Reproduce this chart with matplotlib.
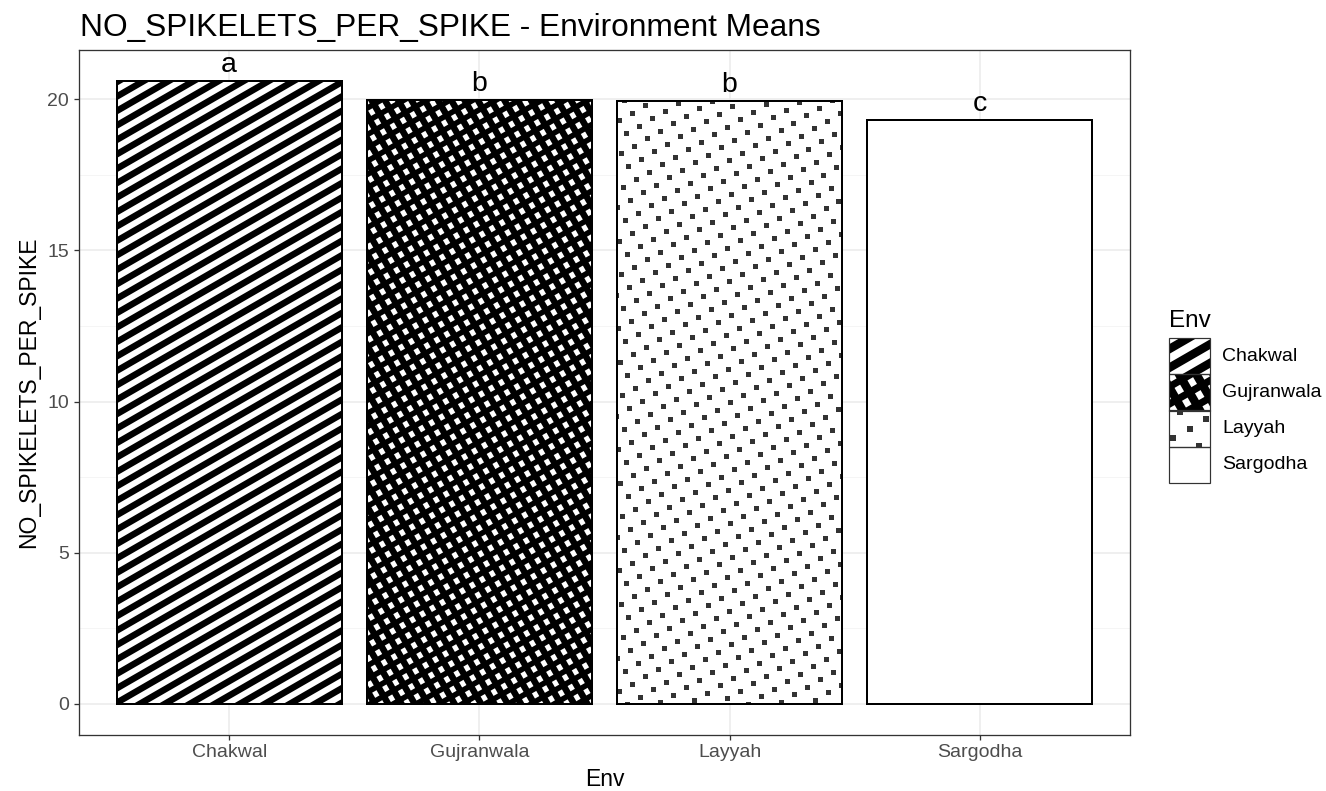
import numpy as np
import matplotlib
matplotlib.use("Agg")
import matplotlib.pyplot as plt
from matplotlib.collections import LineCollection
from matplotlib.patches import Rectangle
from matplotlib.transforms import IdentityTransform

# data
envs = ["Chakwal", "Gujranwala", "Layyah", "Sargodha"]
means = [20.60, 19.98, 19.95, 19.31]
groups = ["a", "b", "b", "c"]
patterns = ["stripe", "crosshatch", "dots", "none"]

plt.rcParams['font.family'] = ['Liberation Sans', 'DejaVu Sans']

W, H = 1326, 791
fig = plt.figure(figsize=(W / 100, H / 100), dpi=100)
ax = fig.add_axes([79 / W, 1 - 735 / H, 1051 / W, 685 / H])


def pt(p):
    # pixels -> points at 100 dpi
    return p * 72 / 100


def stripes(a, patch, angle, gap, width, color="black"):
    bb = patch.get_window_extent()
    t = np.deg2rad(angle)
    d = np.array([np.cos(t), np.sin(t)])
    n = np.array([-np.sin(t), np.cos(t)])
    c0 = np.array([(bb.x0 + bb.x1) / 2, (bb.y0 + bb.y1) / 2])
    L = np.hypot(bb.width, bb.height)
    k = np.arange(-int(L / gap) - 2, int(L / gap) + 3)
    segs = [[c0 + i * gap * n - L * d, c0 + i * gap * n + L * d] for i in k]
    lc = LineCollection(segs, colors=color, linewidths=pt(width),
                        transform=IdentityTransform(), zorder=2.5)
    a.add_collection(lc, autolim=False)
    lc.set_clip_path(patch)


def dots(a, patch, angle, gap, size, color="#333333"):
    bb = patch.get_window_extent()
    t = np.deg2rad(angle)
    d = np.array([np.cos(t), np.sin(t)])
    n = np.array([-np.sin(t), np.cos(t)])
    c0 = np.array([(bb.x0 + bb.x1) / 2, (bb.y0 + bb.y1) / 2])
    N = int(np.hypot(bb.width, bb.height) / gap) + 2
    i, j = np.meshgrid(np.arange(-N, N + 1), np.arange(-N, N + 1))
    p = c0 + (i.ravel()[:, None] * d + j.ravel()[:, None] * n) * gap
    keep = ((p[:, 0] > bb.x0 - gap) & (p[:, 0] < bb.x1 + gap) &
            (p[:, 1] > bb.y0 - gap) & (p[:, 1] < bb.y1 + gap))
    p = p[keep]
    ln, = a.plot(p[:, 0], p[:, 1], 's', ms=pt(size), mew=0, color=color,
                 transform=IdentityTransform(), zorder=2.5)
    ln.set_clip_path(patch)


def fill_pattern(a, patch, kind, scale=1.0):
    if kind == "stripe":
        stripes(a, patch, 30, 12.5 * scale, 6.5 * scale)
    elif kind == "crosshatch":
        stripes(a, patch, 30, 11.5 * scale, 5.5 * scale)
        stripes(a, patch, 120, 11.5 * scale, 6.5 * scale)
    elif kind == "dots":
        dots(a, patch, 30, 15 * scale, 5 * min(scale, 1.1))


x = np.arange(1, len(envs) + 1)
ax.set_xlim(0.4, 4.6)
ax.set_ylim(-1.03, 21.63)

bars = ax.bar(x, means, width=0.9, color="white", edgecolor="none", zorder=2)
for b, pat in zip(bars, patterns):
    fill_pattern(ax, b, pat)
ax.bar(x, means, width=0.9, fill=False, edgecolor="black", linewidth=pt(2), zorder=3)

for xi, m, g in zip(x, means, groups):
    ax.text(xi, m + 0.3, g, ha="center", va="baseline", fontsize=20.5)

ax.set_xticks(x)
ax.set_xticklabels(envs)
ax.set_yticks([0, 5, 10, 15, 20])
ax.set_yticks([2.5, 7.5, 12.5, 17.5], minor=True)
ax.grid(which="major", color="#EBEBEB", linewidth=pt(1.5))
ax.grid(which="minor", axis="y", color="#F3F3F3", linewidth=pt(0.8))
ax.set_axisbelow(True)
ax.tick_params(which="major", labelsize=14, labelcolor="#4D4D4D", color="#333333",
               length=pt(5), width=pt(1.3))
ax.tick_params(axis="x", pad=3)
ax.tick_params(axis="y", pad=3.5)
ax.tick_params(which="minor", length=0)
for s in ax.spines.values():
    s.set_color("#333333")
    s.set_linewidth(pt(1.3))

ax.set_xlabel("Env", fontsize=16.5, labelpad=5)
ax.set_ylabel("NO_SPIKELETS_PER_SPIKE", fontsize=16.5, labelpad=5)
fig.text(80 / W, 1 - 36 / H, "NO_SPIKELETS_PER_SPIKE - Environment Means",
         fontsize=22.8, va="baseline")

# legend
lax = fig.add_axes([1169 / W, 1 - 483 / H, 41 / W, 145 / H])
lax.set_xlim(0, 1)
lax.set_ylim(0, 4)
lax.axis("off")
for i, (env, pat) in enumerate(zip(envs, patterns)):
    r = Rectangle((0, 3 - i), 1, 1, facecolor="white", edgecolor="none", zorder=2)
    lax.add_patch(r)
    fill_pattern(lax, r, pat, scale=1.3)
    lax.add_patch(Rectangle((0, 3 - i), 1, 1, fill=False, edgecolor="#333333",
                            linewidth=pt(1.2), zorder=3, clip_on=False))
    lax.text(1.3, 3.5 - i, env, va="center", ha="left", fontsize=14)
lax.text(0, 4.3, "Env", va="baseline", ha="left", fontsize=17.5)

fig.savefig("out.png", dpi=100)
